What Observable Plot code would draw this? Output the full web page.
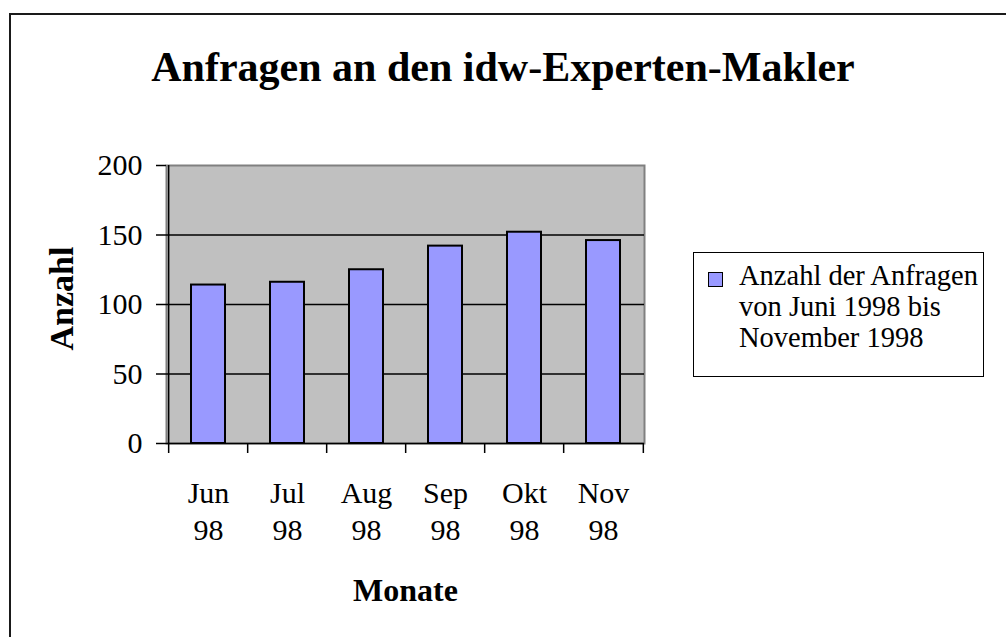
<!DOCTYPE html>
<html><head><meta charset="utf-8">
<script src="https://cdn.jsdelivr.net/npm/d3@7"></script>
<script src="https://cdn.jsdelivr.net/npm/@observablehq/plot@0.6"></script>
<style>
body{margin:0;background:#fff;}
#wrap{position:relative;width:1006px;height:637px;overflow:hidden;font-family:"Liberation Serif","Times New Roman",serif;color:#000;}
#frame{position:absolute;left:9px;top:13px;width:1010px;height:640px;border-left:2px solid #1a1a1a;border-top:2px solid #1a1a1a;}
#title{position:absolute;left:0;width:1006px;top:46px;text-align:center;font-weight:bold;font-size:42px;line-height:42px;white-space:nowrap;}
#chart{position:absolute;left:0;top:0;}
#legend{position:absolute;left:693px;top:252px;width:291px;height:125px;border:1px solid #000;box-sizing:border-box;font-family:"Liberation Serif","Times New Roman",serif;font-size:28.5px;}
#legend .sw{position:absolute;left:14px;top:19px;width:13px;height:13px;background:#9999ff;border:1.5px solid #000;}
#legend .tx{position:absolute;left:45px;top:7px;line-height:31px;white-space:nowrap;font-family:"Liberation Serif","Times New Roman",serif;}
</style>
</head><body>
<div id="wrap">
  <div id="frame"></div>
  <div id="chart"></div>
  <div id="title"></div>
  <div id="legend"><div class="sw"></div><div class="tx"></div></div>
</div>
<script>
const titleText = "Anfragen an den idw-Experten-Makler";
const months = ["Jun 98", "Jul 98", "Aug 98", "Sep 98", "Okt 98", "Nov 98"];
const counts = [114, 116, 125, 142, 152, 146];
const yTicks = [0, 50, 100, 150, 200];
const gridValues = [50, 100, 150];
const xLabel = "Monate";
const yLabel = "Anzahl";
const legendLines = ["Anzahl der Anfragen", "von Juni 1998 bis", "November 1998"];

const data = months.map((m, i) => ({month: m, count: counts[i]}));

const W = 1006, H = 637, mL = 166, mR = 362, mT = 165, mB = 194;
const step = (W - mL - mR) / months.length;
const tickLen = 10 * 200 / (H - mT - mB);

document.getElementById("title").textContent = titleText;
document.querySelector("#legend .tx").innerHTML = legendLines.join("<br>");

const chart = Plot.plot({
  width: W, height: H,
  marginLeft: mL, marginRight: mR, marginTop: mT, marginBottom: mB,
  style: {fontFamily: "'Liberation Serif','Times New Roman',serif", fontSize: "30px", color: "#000", background: "transparent", overflow: "visible"},
  x: {domain: months, paddingInner: 0.57, paddingOuter: 0.285},
  y: {domain: [0, 200]},
  marks: [
    Plot.frame({fill: "#c0c0c0", stroke: "#808080", strokeWidth: 2}),
    Plot.ruleY(gridValues, {stroke: "#000", strokeWidth: 1.5}),
    Plot.barY(data, {x: "month", y: "count", fill: "#9999ff", stroke: "#000", strokeWidth: 2}),
    Plot.ruleY([0], {stroke: "#000", strokeWidth: 1.5}),
    Plot.ruleX([months[0]], {x: d => d, dx: -step / 2, y1: -tickLen, y2: 200, stroke: "#000", strokeWidth: 1.5}),
    Plot.ruleX(months.slice(1), {x: d => d, dx: -step / 2, y1: -tickLen, y2: 0, stroke: "#000", strokeWidth: 1.5}),
    Plot.ruleX([months[months.length - 1]], {x: d => d, dx: step / 2, y1: -tickLen, y2: 0, stroke: "#000", strokeWidth: 1.5}),
    Plot.axisY(yTicks, {tickSize: 10, tickPadding: 14, fontSize: 30, label: null, stroke: "#000", strokeWidth: 1.5, fill: "#000"}),
    Plot.axisX({tickSize: 0, tickPadding: 33, fontSize: 30, lineHeight: 1.24, label: null, fill: "#000",
      tickFormat: d => d.replace(" ", "\n")}),
    Plot.text([xLabel], {frameAnchor: "bottom", dy: 157, fontSize: 32, fontWeight: "bold", fill: "#000"}),
    Plot.text([yLabel], {frameAnchor: "left", textAnchor: "middle", dx: -104, dy: -6, rotate: -90, fontSize: 34, fontWeight: "bold", fill: "#000"})
  ]
});
document.getElementById("chart").appendChild(chart);
</script>
</body></html>
